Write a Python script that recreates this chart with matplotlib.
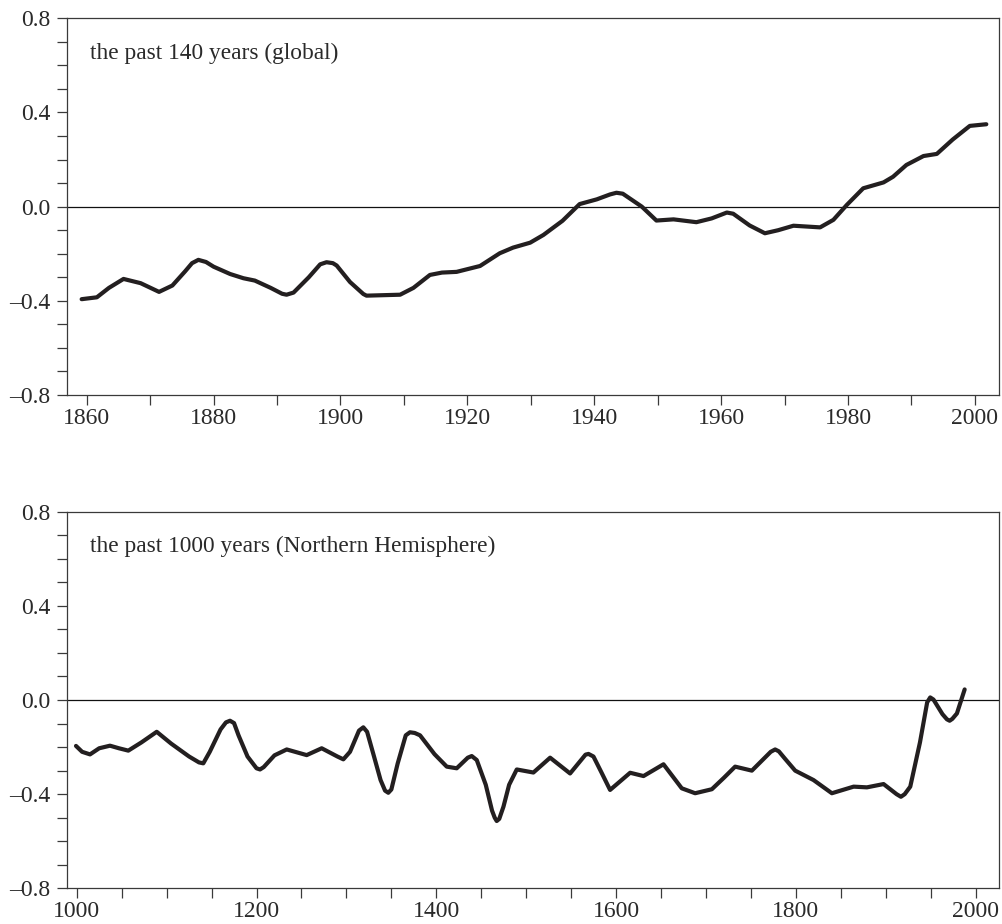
import matplotlib.pyplot as plt
from matplotlib.ticker import MultipleLocator

plt.rcParams['font.family'] = ['Liberation Serif', 'DejaVu Serif']

# past 140 years (global)
years_140 = [1859.2, 1861.6, 1863.5, 1865.8, 1868.5, 1871.4, 1873.5, 1875.5, 1876.6,
             1877.6, 1878.8, 1880.0, 1882.6, 1884.7, 1886.5, 1889.0, 1890.8, 1891.5,
             1892.6, 1895.0, 1896.8, 1897.8, 1898.8, 1899.4, 1901.5, 1903.6, 1904.1,
             1909.4, 1911.5, 1914.1, 1916.0, 1918.3, 1922.0, 1925.1, 1927.2, 1929.9,
             1932.0, 1935.0, 1937.7, 1940.4, 1942.5, 1943.5, 1944.5, 1947.5, 1949.8,
             1952.5, 1956.1, 1958.5, 1960.9, 1961.9, 1964.5, 1966.9, 1969.0, 1971.4,
             1975.6, 1977.7, 1979.8, 1982.4, 1985.6, 1987.1, 1989.2, 1991.9, 1994.0,
             1996.5, 1999.2, 2001.8]
temp_140 = [-0.393, -0.385, -0.345, -0.307, -0.325, -0.362, -0.335, -0.275, -0.240,
            -0.226, -0.235, -0.255, -0.286, -0.304, -0.314, -0.345, -0.370, -0.374,
            -0.365, -0.300, -0.245, -0.236, -0.240, -0.250, -0.320, -0.371, -0.378,
            -0.374, -0.345, -0.290, -0.280, -0.277, -0.252, -0.198, -0.174, -0.153,
            -0.120, -0.060, 0.011, 0.031, 0.052, 0.059, 0.055, 0.000, -0.059,
            -0.054, -0.066, -0.050, -0.025, -0.030, -0.080, -0.113, -0.100, -0.081,
            -0.088, -0.056, 0.007, 0.078, 0.103, 0.127, 0.177, 0.215, 0.224,
            0.285, 0.343, 0.350]

# past 1000 years (Northern Hemisphere)
years_1000 = [999.2, 1006.0, 1014.8, 1025.0, 1037.0, 1047.0, 1057.4, 1072.0, 1089.0,
              1105.0, 1125.0, 1136.0, 1140.8, 1148.0, 1160.0, 1166.0, 1170.5, 1175.0,
              1180.0, 1190.0, 1200.0, 1203.9, 1208.0, 1220.0, 1233.6, 1255.8, 1272.5,
              1290.0, 1296.6, 1304.0, 1314.0, 1318.8, 1323.0, 1330.0, 1338.0, 1343.0,
              1346.6, 1350.0, 1357.0, 1366.0, 1370.7, 1376.0, 1381.9, 1398.0, 1411.6,
              1422.7, 1435.0, 1439.4, 1445.0, 1455.0, 1462.0, 1465.0, 1467.2, 1470.0,
              1474.7, 1481.0, 1489.5, 1508.0, 1526.6, 1548.8, 1566.0, 1569.3, 1574.8,
              1584.0, 1593.3, 1615.6, 1630.5, 1652.7, 1673.0, 1687.9, 1706.5, 1720.0,
              1732.4, 1751.0, 1772.0, 1776.9, 1781.0, 1788.0, 1799.2, 1819.6, 1840.0,
              1864.2, 1879.0, 1897.5, 1912.0, 1916.8, 1921.0, 1927.2, 1938.0, 1946.0,
              1949.4, 1953.0, 1963.0, 1968.0, 1971.0, 1974.0, 1979.1, 1987.7]
temp_1000 = [-0.195, -0.220, -0.231, -0.205, -0.194, -0.205, -0.215, -0.180, -0.135,
             -0.185, -0.240, -0.265, -0.269, -0.220, -0.125, -0.095, -0.088, -0.098,
             -0.150, -0.240, -0.290, -0.295, -0.285, -0.235, -0.210, -0.234, -0.205,
             -0.240, -0.252, -0.220, -0.130, -0.116, -0.135, -0.230, -0.340, -0.385,
             -0.394, -0.380, -0.270, -0.150, -0.137, -0.140, -0.150, -0.230, -0.283,
             -0.290, -0.245, -0.238, -0.255, -0.360, -0.470, -0.500, -0.514, -0.505,
             -0.453, -0.360, -0.295, -0.308, -0.245, -0.312, -0.232, -0.229, -0.240,
             -0.310, -0.382, -0.309, -0.323, -0.273, -0.375, -0.396, -0.379, -0.330,
             -0.283, -0.300, -0.220, -0.210, -0.218, -0.250, -0.300, -0.340, -0.396,
             -0.368, -0.371, -0.357, -0.400, -0.411, -0.400, -0.368, -0.180, -0.010,
             0.011, 0.002, -0.060, -0.082, -0.088, -0.080, -0.057, 0.045]

labels = ["the past 140 years (global)", "the past 1000 years (Northern Hemisphere)"]

line_color = "#231f20"
axis_color = "#3a3a3a"

fig = plt.figure(figsize=(10.02, 9.24), dpi=100)
ax1 = fig.add_axes([0.0666, 0.5725, 0.9304, 0.4077])
ax2 = fig.add_axes([0.0666, 0.0386, 0.9304, 0.4076])

panels = [
    (ax1, years_140, temp_140, (1856.85, 2003.8), 20, 10),
    (ax2, years_1000, temp_1000, (988.9, 2025.9), 200, 50),
]

for (ax, xs, ys, xlim, major, minor), label in zip(panels, labels):
    ax.plot(xs, ys, color=line_color, lw=3.0, solid_joinstyle='round',
            solid_capstyle='round', zorder=3)
    ax.axhline(0, color="#111111", lw=0.9, zorder=2)
    ax.set_xlim(*xlim)
    ax.set_ylim(-0.8, 0.8)
    ax.xaxis.set_major_locator(MultipleLocator(major))
    ax.xaxis.set_minor_locator(MultipleLocator(minor))
    ax.yaxis.set_major_locator(MultipleLocator(0.4))
    ax.yaxis.set_minor_locator(MultipleLocator(0.1))
    ax.yaxis.set_major_formatter(lambda v, pos: f"{v:.1f}".replace("-", "\u2013"))
    ax.tick_params(which='both', direction='out', length=7, width=0.9,
                   color=axis_color, labelcolor="#2a2a2a", labelsize=17)
    ax.tick_params(axis='y', which='both', pad=5)
    ax.tick_params(axis='x', which='both', pad=2)
    for s in ax.spines.values():
        s.set_color(axis_color)
        s.set_linewidth(0.9)
    ax.text(0.025, 0.935, label, transform=ax.transAxes, fontsize=16.8,
            color="#2a2a2a", ha='left', va='top')

fig.savefig("out.png", dpi=100)
